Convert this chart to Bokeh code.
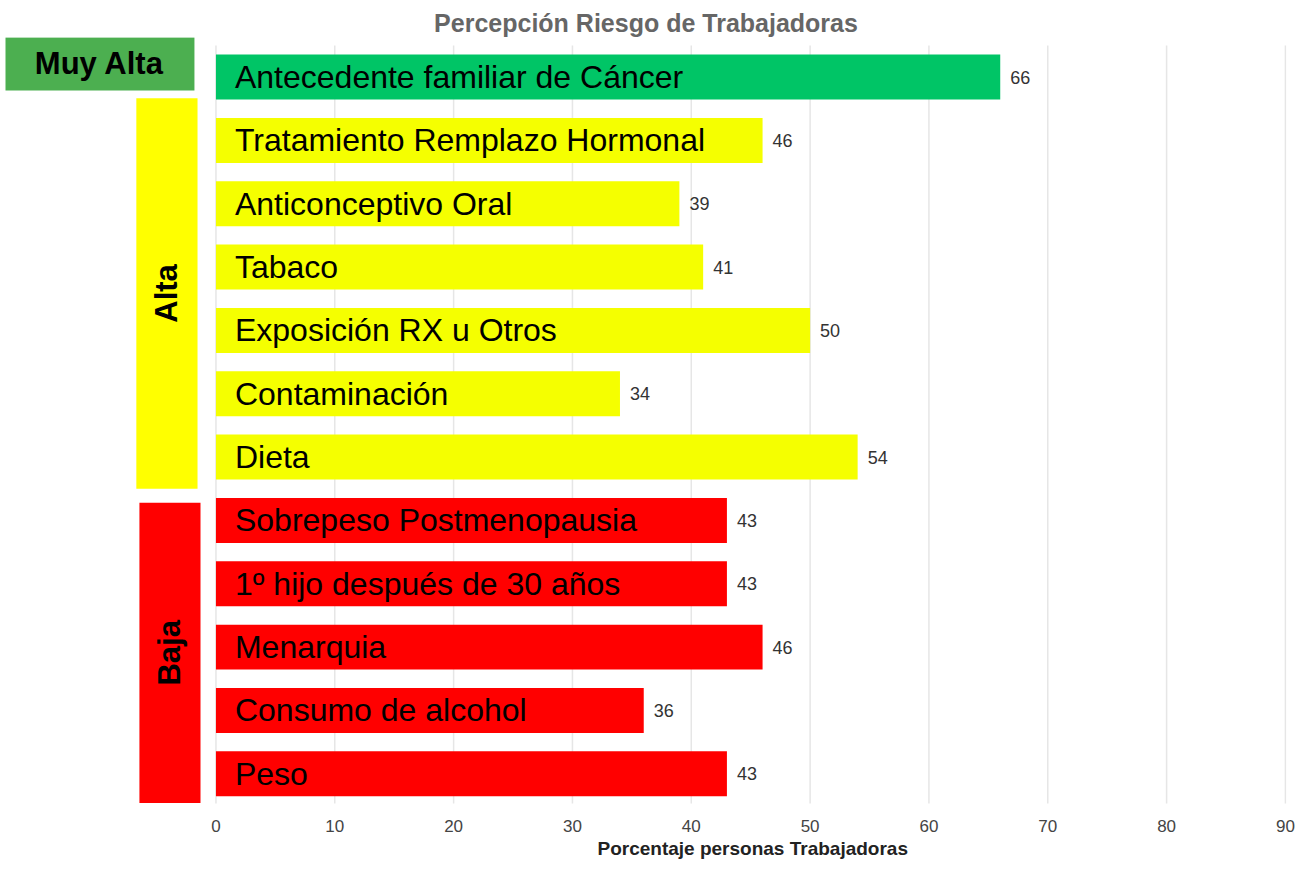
import math
from bokeh.plotting import figure
from bokeh.models import ColumnDataSource, FixedTicker, Title, Range1d
from bokeh.core.properties import value
from bokeh.embed import file_html
from bokeh.resources import INLINE

# ---------------- data ----------------
categories = [
    "Antecedente familiar de Cáncer",
    "Tratamiento Remplazo Hormonal",
    "Anticonceptivo Oral",
    "Tabaco",
    "Exposición RX u Otros",
    "Contaminación",
    "Dieta",
    "Sobrepeso Postmenopausia",
    "1º hijo después de 30 años",
    "Menarquia",
    "Consumo de alcohol",
    "Peso",
]
values = [66, 46, 39, 41, 50, 34, 54, 43, 43, 46, 36, 43]
risk_levels = ["Muy Alta", "Alta", "Alta", "Alta", "Alta", "Alta", "Alta",
               "Baja", "Baja", "Baja", "Baja", "Baja"]
level_names = ["Muy Alta", "Alta", "Baja"]
x_ticks = [0, 10, 20, 30, 40, 50, 60, 70, 80, 90]

title_text = "Percepción Riesgo de Trabajadoras"
x_label = "Porcentaje personas Trabajadoras"

# ---------------- styles ----------------
FONT = "Liberation Sans"
bar_colors = {"Muy Alta": "#00C566", "Alta": "#F5FF00", "Baja": "#FF0000"}
band_colors = {"Muy Alta": "#4CAF50", "Alta": "#FFFF00", "Baja": "#FF0000"}
band_geom = {
    "Muy Alta": dict(x0=-17.8, x1=-1.81, pad_top=0.63, pad_bottom=0.21, angle=0.0),
    "Alta": dict(x0=-6.7, x1=-1.55, pad_top=0.667, pad_bottom=0.5, angle=math.pi / 2),
    "Baja": dict(x0=-6.44, x1=-1.3, pad_top=0.28, pad_bottom=0.46, angle=math.pi / 2),
}

idx = list(range(len(categories)))

p = figure(
    width=1295, height=859,
    x_range=Range1d(-17.71, 90.09),
    y_range=Range1d(11.485, -0.625),
    output_backend="svg", toolbar_location=None,
    y_axis_location=None,
    min_border_left=5, min_border_right=9,
    min_border_top=37, min_border_bottom=53,
)
p.outline_line_color = None
p.xgrid.visible = False
p.ygrid.visible = False
p.background_fill_color = "white"

# grid lines behind bars
n = len(x_ticks)
p.segment(x0=x_ticks, x1=x_ticks, y0=[-0.5] * n, y1=[11.47] * n,
          line_color="#e6e6e6", line_width=1.5)

src = ColumnDataSource(dict(
    y=idx,
    value=values,
    cat=categories,
    color=[bar_colors[l] for l in risk_levels],
    label=[str(v) for v in values],
    label_x=[1.6] * len(idx),
))
p.hbar(y="y", left=0, right="value", height=0.71, fill_color="color",
       line_color=None, source=src)

p.text(x="label_x", y="y", text="cat", source=src,
       text_font=value(FONT), text_font_size="32px", text_color="black",
       text_align="left", text_baseline="middle")

p.text(x="value", y="y", text="label", source=src, x_offset=10,
       text_font=value(FONT), text_font_size="18px", text_color="#333333",
       text_align="left", text_baseline="middle")

# risk-level bands
bl, br, bt, bb, bx, by, bc, bn, ba = [], [], [], [], [], [], [], [], []
for lvl in level_names:
    members = [i for i, l in enumerate(risk_levels) if l == lvl]
    g = band_geom[lvl]
    top = min(members) - g["pad_top"]
    bottom = max(members) + g["pad_bottom"]
    bl.append(g["x0"]); br.append(g["x1"]); bt.append(top); bb.append(bottom)
    bx.append((g["x0"] + g["x1"]) / 2); by.append((top + bottom) / 2)
    bc.append(band_colors[lvl]); bn.append(lvl); ba.append(g["angle"])

band_src = ColumnDataSource(dict(left=bl, right=br, top=bt, bottom=bb,
                                 x=bx, y=by, color=bc, name=bn, angle=ba))
p.quad(left="left", right="right", top="top", bottom="bottom",
       fill_color="color", line_color=None, source=band_src)
p.text(x="x", y="y", text="name", angle="angle", source=band_src,
       text_font=value(FONT), text_font_size="31px", text_font_style="bold",
       text_color="black", text_align="center", text_baseline="middle")

# axis
ax = p.xaxis[0]
ax.ticker = FixedTicker(ticks=x_ticks)
ax.axis_line_color = None
ax.major_tick_line_color = None
ax.minor_tick_line_color = None
ax.major_label_text_font = FONT
ax.major_label_text_font_size = "17px"
ax.major_label_text_color = "#444444"
ax.major_label_standoff = 9

# titles
p.title.text = title_text
p.title.align = "center"
p.title.text_font = FONT
p.title.text_font_size = "25px"
p.title.text_font_style = "bold"
p.title.text_color = "#666666"
p.title.standoff = 0
p.title.vertical_align = "middle"

xl = Title(text=x_label, align="left", offset=592, text_font=FONT,
           text_font_size="19px", text_font_style="bold", text_color="#222222",
           standoff=2)
p.add_layout(xl, "below")

open("out.html", "w").write(file_html(p, INLINE))
